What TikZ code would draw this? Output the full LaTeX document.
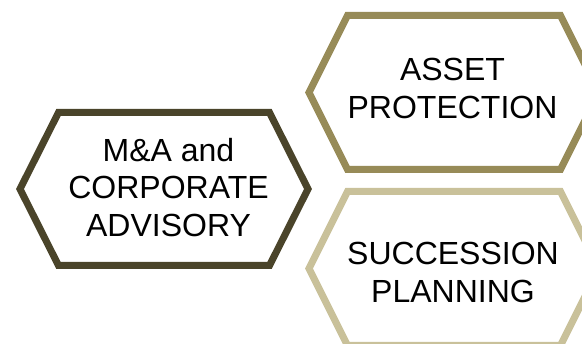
\documentclass[tikz,border=0pt]{standalone}
\usepackage{fontspec}
\setmainfont{Liberation Sans}
\definecolor{darkolive}{HTML}{4A442A}
\definecolor{midolive}{HTML}{978B58}
\definecolor{lightolive}{HTML}{C9C19A}
\tikzset{
  hexline/.style={line width=7pt, line join=miter, fill=white},
  hextext/.style={align=center, font=\fontsize{32}{37.5}\selectfont, text=black, inner sep=0pt}
}
\begin{document}
\begin{tikzpicture}[x=1pt,y=-1pt]
\useasboundingbox (0,0) rectangle (582,344);
\clip (0,0) rectangle (582,344);
% left hexagon
\draw[hexline, draw=darkolive] (20,189) -- (58.5,112.5) -- (269.5,112.5) -- (308,189) -- (269.5,265.5) -- (58.5,265.5) -- cycle;
% top right hexagon
\draw[hexline, draw=midolive] (309,92.5) -- (347.5,15.5) -- (560.5,15.5) -- (599,92.5) -- (560.5,169.5) -- (347.5,169.5) -- cycle;
% bottom right hexagon
\draw[hexline, draw=lightolive] (309,268.5) -- (347.5,191.5) -- (560.5,191.5) -- (599,268.5) -- (560.5,345.5) -- (347.5,345.5) -- cycle;
\node[hextext] (ma) at (168.5,187.5) {M\&A and\\CORPORATE\\ADVISORY};
\node[hextext] (asset) at (452.5,88.5) {ASSET\\PROTECTION};
\node[hextext] (succ) at (453,272.5) {SUCCESSION\\PLANNING};
\end{tikzpicture}
\end{document}
